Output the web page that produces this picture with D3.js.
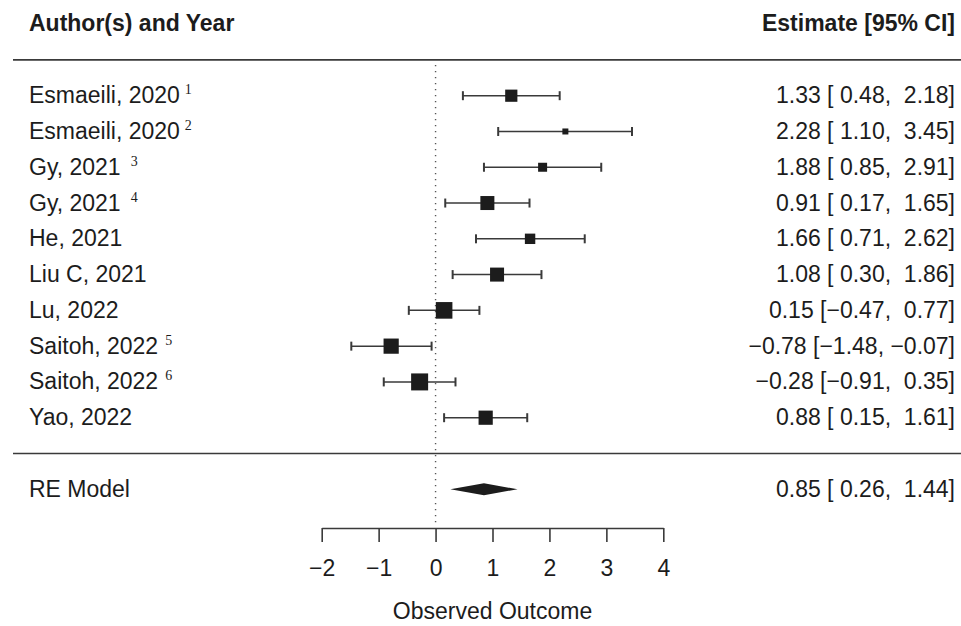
<!DOCTYPE html>
<html><head><meta charset="utf-8">
<script src="https://cdn.jsdelivr.net/npm/d3@7"></script>
<style>
html,body{margin:0;padding:0;background:#fff;}
svg{display:block;font-family:"Liberation Sans",Arial,sans-serif;}
text{white-space:pre;}
</style></head>
<body>
<script>
const studies = ["Esmaeili, 2020","Esmaeili, 2020","Gy, 2021","Gy, 2021","He, 2021","Liu C, 2021","Lu, 2022","Saitoh, 2022","Saitoh, 2022","Yao, 2022"];
const superscripts = ["1","2","3","4","","","","5","6",""];
const estimates = [1.33, 2.28, 1.88, 0.91, 1.66, 1.08, 0.15, -0.78, -0.28, 0.88];
const lower = [0.48, 1.10, 0.85, 0.17, 0.71, 0.30, -0.47, -1.48, -0.91, 0.15];
const upper = [2.18, 3.45, 2.91, 1.65, 2.62, 1.86, 0.77, -0.07, 0.35, 1.61];
const weights = [9.6, 6.5, 8.0, 10.5, 8.7, 10.5, 11.8, 11.1, 12.0, 10.6];
const pooled = {label:"RE Model", est:0.85, lb:0.26, ub:1.44};
const xTicks = [-2,-1,0,1,2,3,4];
const headers = ["Author(s) and Year","Estimate [95% CI]","Observed Outcome"];

const W = 961, H = 626;
const svg = d3.select("body").append("svg").attr("width",W).attr("height",H);
const ink = "#1c1c1c", lineCol = "#3a3a3a";
const k = studies.length;

const x = d3.scaleLinear().domain([-2,4]).range([321.7,663.3]);
const y = d3.scaleLinear().domain([1,k]).range([417.7,95.7]);
const size = d3.scaleLinear().domain([d3.min(weights),d3.max(weights)]).range([6,17]);
const fmt = v => (v<0?"\u2212":" ") + Math.abs(v).toFixed(2);
const fmtE = v => (v<0?"\u2212":"") + Math.abs(v).toFixed(2);
const ciText = (e,l,u) => fmtE(e) + " [" + fmt(l) + ", " + fmt(u) + "]";

const Lx = 29, Rx = 955, fs = 23;

svg.append("text").attr("x",Lx).attr("y",31).attr("font-size",fs).attr("font-weight","bold").attr("fill",ink).text(headers[0]);
svg.append("text").attr("x",Rx).attr("y",31).attr("text-anchor","end").attr("font-size",fs).attr("font-weight","bold").attr("fill",ink).text(headers[1]);

[k+1, 0].forEach(r => {
  svg.append("line").attr("x1",13).attr("x2",W).attr("y1",y(r)).attr("y2",y(r))
    .attr("stroke",lineCol).attr("stroke-width",1.6);
});

svg.append("line").attr("x1",x(0)).attr("x2",x(0)).attr("y1",y(k+1)+5).attr("y2",523)
  .attr("stroke","#555").attr("stroke-width",1.4).attr("stroke-dasharray","1.4,4.6");

const supGap = {"1":5,"2":5,"3":10,"4":10,"5":7,"6":7};
studies.forEach((s,i) => {
  const r = k - i, yy = y(r);
  const t = svg.append("text").attr("x",Lx).attr("y",yy+7.5).attr("font-size",fs).attr("fill",ink).text(s);
  if (superscripts[i]) {
    t.append("tspan").attr("dx",supGap[superscripts[i]]).attr("dy",-9)
      .attr("font-family","'Liberation Serif','Times New Roman',serif").attr("font-size",14)
      .text(superscripts[i]);
  }
  svg.append("text").attr("x",Rx).attr("y",yy+7.5).attr("text-anchor","end").attr("font-size",fs).attr("fill",ink)
    .text(ciText(estimates[i],lower[i],upper[i]));
  svg.append("line").attr("x1",x(lower[i])).attr("x2",x(upper[i])).attr("y1",yy).attr("y2",yy)
    .attr("stroke",lineCol).attr("stroke-width",1.5);
  [lower[i],upper[i]].forEach(v => {
    svg.append("line").attr("x1",x(v)).attr("x2",x(v)).attr("y1",yy-4.5).attr("y2",yy+4.5)
      .attr("stroke",lineCol).attr("stroke-width",2);
  });
  const sz = size(weights[i]);
  svg.append("rect").attr("x",x(estimates[i])-sz/2).attr("y",yy-sz/2).attr("width",sz).attr("height",sz)
    .attr("fill",ink);
});

const yRE = y(-1);
svg.append("text").attr("x",Lx).attr("y",yRE+7.5).attr("font-size",fs).attr("fill",ink).text(pooled.label);
svg.append("text").attr("x",Rx).attr("y",yRE+7.5).attr("text-anchor","end").attr("font-size",fs).attr("fill",ink)
  .text(ciText(pooled.est,pooled.lb,pooled.ub));
svg.append("path")
  .attr("d",`M${x(pooled.lb)},${yRE} L${x(pooled.est)},${yRE-6} L${x(pooled.ub)},${yRE} L${x(pooled.est)},${yRE+6} Z`)
  .attr("fill",ink);

const axisY = 528;
const ax = svg.append("g").attr("transform",`translate(0,${axisY})`)
  .call(d3.axisBottom(x).tickValues(xTicks).tickSize(14).tickSizeOuter(0).tickPadding(18)
        .tickFormat(d => d<0 ? "\u2212"+Math.abs(d) : String(d)));
ax.select(".domain").attr("stroke",lineCol).attr("stroke-width",1.6);
ax.selectAll(".tick line").attr("stroke",lineCol).attr("stroke-width",1.6);
ax.selectAll(".tick text").attr("font-size",fs).attr("fill",ink).attr("font-family","'Liberation Sans',Arial,sans-serif");

svg.append("text").attr("x",x(1)).attr("y",619).attr("text-anchor","middle").attr("font-size",fs).attr("fill",ink).text(headers[2]);
</script>
</body></html>
